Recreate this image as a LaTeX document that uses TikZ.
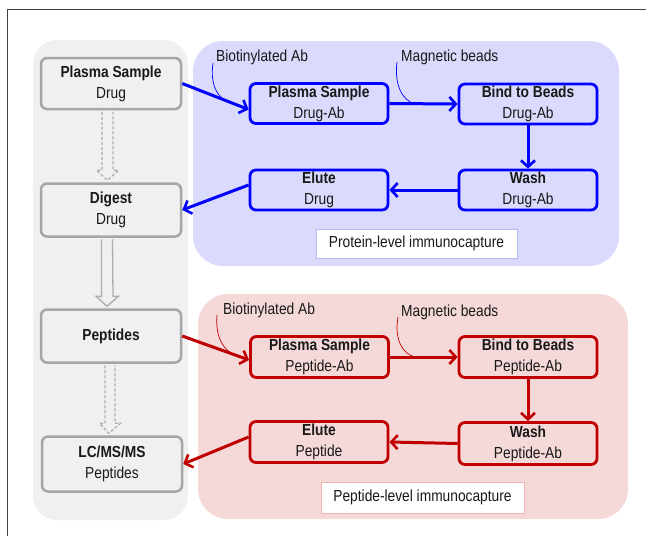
\documentclass[tikz,border=0pt]{standalone}
\usepackage{fontspec}
\setmainfont[FakeStretch=0.86]{Liberation Sans}
\usetikzlibrary{arrows.meta,calc}
\definecolor{framegray}{HTML}{404040}
\definecolor{panelgray}{HTML}{F0F0F0}
\definecolor{nodegray}{HTML}{A6A6A6}
\definecolor{arrgray}{HTML}{ADADAD}
\definecolor{bluepanel}{RGB}{218,218,253}
\definecolor{redpanel}{RGB}{245,216,216}
\definecolor{myblue}{HTML}{0000FF}
\definecolor{myred}{HTML}{C00000}
\definecolor{bluelabel}{HTML}{B8B8F4}
\definecolor{redlabel}{HTML}{F0B4B4}
\begin{document}
\begin{tikzpicture}[x=1pt,y=-1pt,
  every node/.style={font=\fontsize{16}{21}\selectfont, align=center, inner sep=0pt, text=black!90},
  graybox/.style={draw=nodegray, fill=panelgray, line width=2.5pt, rounded corners=6pt, minimum width=140pt, minimum height=53pt},
  bluebox/.style={draw=myblue, fill=bluepanel, line width=2.8pt, rounded corners=6pt, minimum width=138pt, minimum height=40pt},
  redbox/.style={draw=myred, fill=redpanel, line width=2.8pt, rounded corners=6pt, minimum width=138pt, minimum height=41pt},
  bluearr/.style={draw=myblue, line width=3pt, -{Straight Barb[length=6.5pt,width=14pt,line width=2.6pt]}},
  redarr/.style={draw=myred, line width=3pt, -{Straight Barb[length=6.5pt,width=14pt,line width=2.6pt]}},
  hollowarr/.style={draw=arrgray, line width=1.3pt, line join=miter},
  dashedarr/.style={hollowarr, dash pattern=on 3pt off 2pt},
  annot/.style={line width=0.7pt}
]
\useasboundingbox (0,0) rectangle (646,536);
% outer frame
\draw[framegray, line width=1.4pt] (646,9.3) -- (7.7,9.3) -- (7.7,536);
% panels
\fill[panelgray, rounded corners=24pt] (33,40) rectangle (188,520);
\fill[bluepanel, rounded corners=30pt] (193,41) rectangle (619,266);
\fill[redpanel, rounded corners=30pt] (198,294) rectangle (628,519);

% left column
\node[graybox, minimum height=51pt] (ps) at (111,83.5) {\textbf{Plasma Sample}\\Drug};
\node[graybox] (dg) at (111,210) {\textbf{Digest}\\Drug};
\node[graybox] (pep) at (111,336) {\textbf{Peptides}};
\node[graybox, minimum height=55pt] (lc) at (112,464) {\textbf{LC/MS/MS}\\Peptides};

% hollow arrows
\draw[dashedarr] ($(ps.south)+(-9,1.5)$) -- ($(dg.north)+(-9,-12)$) -- ++(-5.5,0) -- ($(dg.north)+(-3.5,-2)$) -- ($(dg.north)+(7.5,-12)$) -- ++(-5.5,0) -- ($(ps.south)+(2,1.5)$);
\draw[hollowarr] ($(dg.south)+(-9.5,1.5)$) -- ($(pep.north)+(-9.5,-12)$) -- ++(-5.5,0) -- ($(pep.north)+(-4,-2)$) -- ($(pep.north)+(7.5,-12)$) -- ++(-5.5,0) -- ($(dg.south)+(1.5,1.5)$);
\draw[dashedarr] ($(pep.south)+(-6,1.5)$) -- ($(lc.north)+(-7,-12)$) -- ++(-5.5,0) -- ($(lc.north)+(-3,-2)$) -- ($(lc.north)+(8.5,-12)$) -- ++(-5.5,0) -- ($(pep.south)+(4,1.5)$);

% protein-level (blue)
\node[bluebox] (bps) at (319,103.5) {\textbf{Plasma Sample}\\Drug-Ab};
\node[bluebox] (bbd) at (528,104) {\textbf{Bind to Beads}\\Drug-Ab};
\node[bluebox] (bwash) at (528,190) {\textbf{Wash}\\Drug-Ab};
\node[bluebox] (belute) at (319,190) {\textbf{Elute}\\Drug};
\node[draw=bluelabel, fill=white, line width=0.6pt, minimum width=201pt, minimum height=29pt] (blabel) at (416.5,243.5) {Protein-level immunocapture};
\node[anchor=west] (bbio) at (216,57) {Biotinylated Ab};
\node[anchor=west] (bmag) at (401,57) {Magnetic beads};

\draw[bluearr] (ps.east) -- coordinate[pos=0.68] (bbioend) ($(bps.west)+(0,6)$);
\draw[bluearr] (bps.east) -- coordinate[pos=0.37] (bmagend) (bbd.west);
\draw[bluearr] (bbd.south) -- (bwash.north);
\draw[bluearr] (bwash.west) -- (belute.east);
\draw[bluearr] ($(belute.west)+(0,-5)$) -- (dg.east);
\draw[annot, myblue] ($(bbio.west)+(-3,6)$) .. controls ($(bbio.west)+(-6,28)$) and ($(bbioend)+(-10,-4)$) .. (bbioend);
\draw[annot, myblue] ($(bmag.west)+(-4,5)$) .. controls ($(bmag.west)+(-7,28)$) and ($(bmagend)+(-12,-3)$) .. (bmagend);

% peptide-level (red)
\node[redbox] (rps) at (319.5,357) {\textbf{Plasma Sample}\\Peptide-Ab};
\node[redbox] (rbd) at (528,357) {\textbf{Bind to Beads}\\Peptide-Ab};
\node[redbox, minimum height=42pt] (rwash) at (528,443.5) {\textbf{Wash}\\Peptide-Ab};
\node[redbox] (relute) at (319,442) {\textbf{Elute}\\Peptide};
\node[draw=redlabel, fill=white, line width=0.6pt, minimum width=203pt, minimum height=31pt] (rlabel) at (422.5,497.5) {Peptide-level immunocapture};
\node[anchor=west] (rbio) at (223,310) {Biotinylated Ab};
\node[anchor=west] (rmag) at (401,312) {Magnetic beads};

\draw[redarr] (pep.east) -- coordinate[pos=0.78] (rbioend) ($(rps.west)+(0,3)$);
\draw[redarr] (rps.east) -- coordinate[pos=0.37] (rmagend) (rbd.west);
\draw[redarr] (rbd.south) -- (rwash.north);
\draw[redarr] (rwash.west) -- (relute.east);
\draw[redarr] ($(relute.west)+(0,-5)$) -- (lc.east);
\draw[annot, myred] ($(rbio.west)+(-6,5)$) .. controls ($(rbio.west)+(-8,28)$) and ($(rbioend)+(-10,-4)$) .. (rbioend);
\draw[annot, myred] ($(rmag.west)+(-3,5)$) .. controls ($(rmag.west)+(-7,28)$) and ($(rmagend)+(-12,-3)$) .. (rmagend);
\end{tikzpicture}
\end{document}
